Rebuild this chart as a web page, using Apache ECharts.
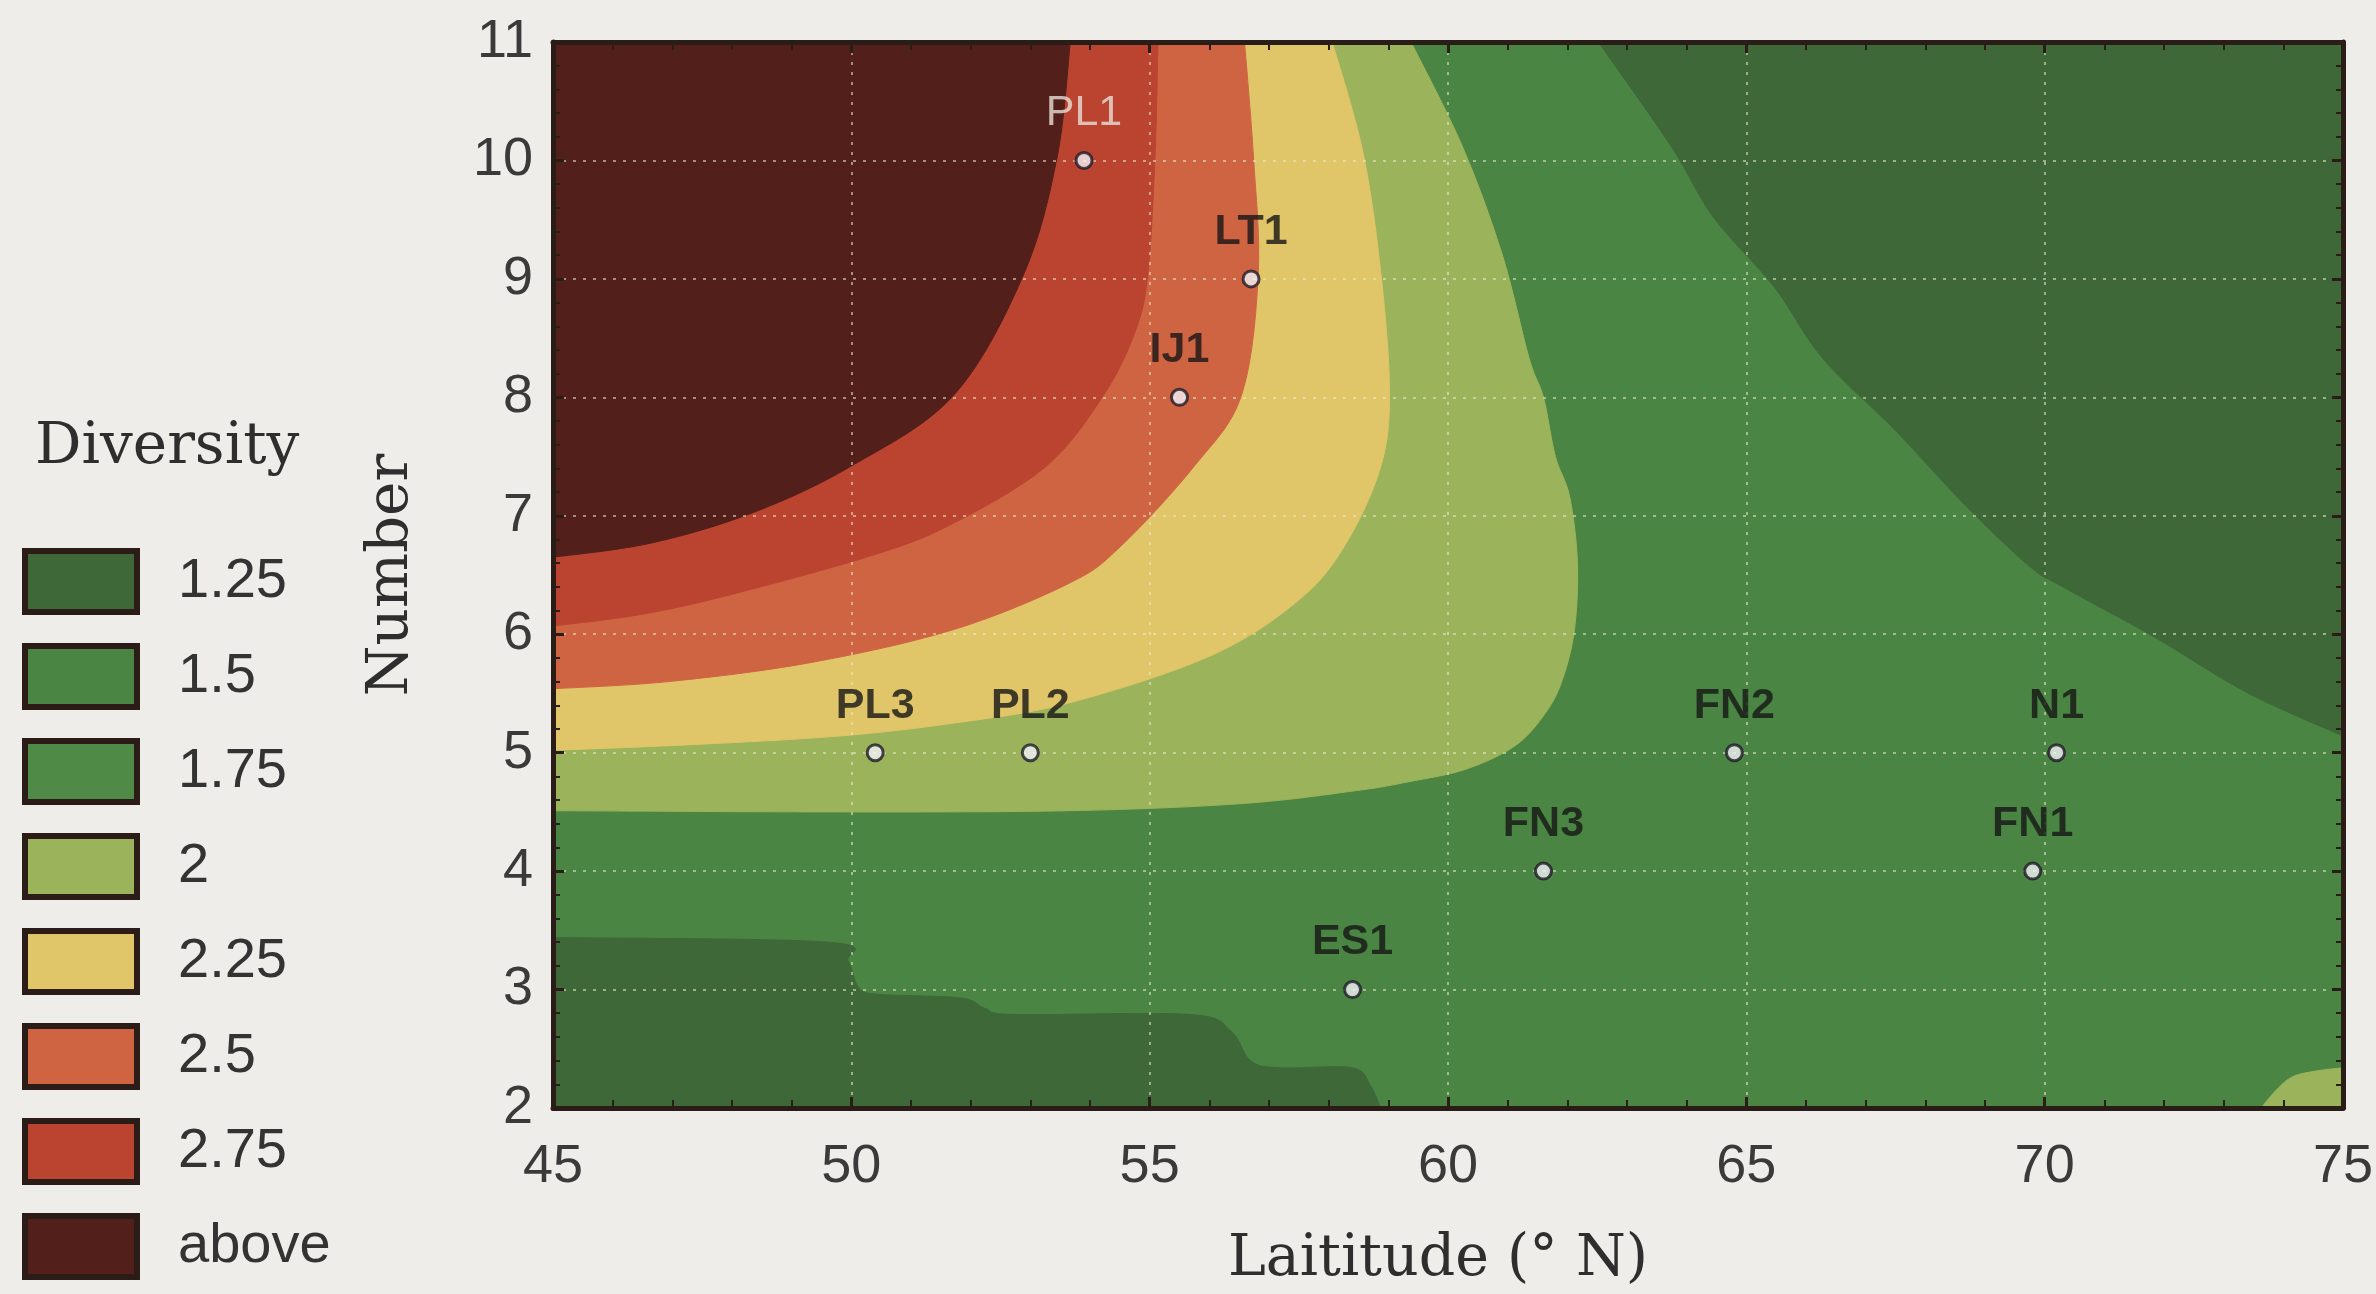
<!DOCTYPE html>
<html>
<head>
<meta charset="utf-8">
<script src="https://cdn.jsdelivr.net/npm/echarts@6/dist/echarts.min.js"></script>
<style>
html,body{margin:0;padding:0;background:#eeede9;}
#c{width:2376px;height:1294px;}
</style>
</head>
<body>
<div id="c"></div>
<script>
// ---- axes ----
const latMin = 45, latMax = 75, latStep = 5;
const numMin = 2, numMax = 11, numStep = 1;

// ---- legend (diversity classes) ----
const levelNames = ['1.25', '1.5', '1.75', '2', '2.25', '2.5', '2.75', 'above'];

// ---- contour boundaries: [latitude, number] ----
const lvlAbove = [[53.67,11],[53.45,10.03],[52.89,9.04],[51.72,8.02],[50.0,7.42],[48.37,7.03],[46.65,6.77],[45,6.65]];
const lvl275 = [[55.14,11],[55.09,10.03],[54.97,9.04],[54.76,8.56],[54.23,8.02],[53.27,7.42],[51.72,6.94],[50.38,6.67],[47.87,6.32],[46.39,6.16],[45,6.07]];
const lvl25 = [[56.59,11],[56.74,10.03],[56.82,9.04],[56.54,8.02],[55.75,7.42],[54.51,6.74],[53.65,6.43],[51.72,6.04],[49.31,5.76],[46.93,5.60],[45,5.54]];
const lvl225 = [[58.06,11],[58.57,10.08],[58.87,9.07],[59.02,8.05],[58.87,7.41],[58.26,6.74],[57.48,6.28],[56.03,5.82],[53.65,5.42],[51.72,5.25],[49.79,5.14],[47.41,5.07],[45,5.02]];
const lvl2 = [[59.38,11],[60.24,10.12],[60.90,9.22],[61.36,8.33],[61.6,8.0],[61.8,7.5],[62.04,7.16],[62.17,6.60],[62.12,6.04],[61.92,5.62],[61.64,5.34],[61.13,5.06],[60.3,4.86],[59.4,4.76],[58.47,4.68],[56.54,4.57],[53.65,4.51],[49.79,4.50],[45,4.51]];
const lvl2Corner = [[73.63,2],[73.86,2.14],[74.14,2.26],[74.52,2.31],[75,2.34]];
const lvl125TopRight = [[62.52,11],[63.74,10.12],[64.45,9.52],[65.47,8.93],[66.28,8.33],[67.50,7.72],[68.61,7.12],[69.73,6.58],[70.34,6.39],[71.86,5.97],[73.38,5.51],[75,5.14]];
const lvl125BottomLeft = [[45,3.44],[49.62,3.40],[49.95,3.24],[50.12,3.02],[50.45,2.96],[51.82,2.93],[52.25,2.84],[52.74,2.79],[55.68,2.79],[56.36,2.65],[56.69,2.40],[57.17,2.34],[58.39,2.34],[58.70,2.19],[58.87,2]];

// ---- sampling sites ----
const siteNames = ['PL1','LT1','IJ1','PL3','PL2','ES1','FN3','FN2','N1','FN1'];
const siteLat   = [53.9, 56.7, 55.5, 50.4, 53.0, 58.4, 61.6, 64.8, 70.2, 69.8];
const siteNum   = [10, 9, 8, 5, 5, 3, 4, 5, 5, 4];

// ---- colours ----
const colors = {
  '1.25': '#3e6838', '1.5': '#4b8544', '1.75': '#4f8a47', '2': '#9bb45b',
  '2.25': '#e0c569', '2.5': '#cf6442', '2.75': '#bb4430', 'above': '#521f1a'
};

// plot corners (from the axis extents)
const TL = [latMin, numMax], TR = [latMax, numMax], BL = [latMin, numMin], BR = [latMax, numMin];

function smoothPath(pts, close) {
  let d = '';
  if (pts.length) {
    d = 'M' + pts[0][0] + ',' + pts[0][1];
    for (let i = 0; i < pts.length - 1; i++) {
      const p0 = pts[i - 1] || pts[i], p1 = pts[i], p2 = pts[i + 1], p3 = pts[i + 2] || pts[i + 1];
      const c1x = p1[0] + (p2[0] - p0[0]) / 6, c1y = p1[1] + (p2[1] - p0[1]) / 6;
      const c2x = p2[0] - (p3[0] - p1[0]) / 6, c2y = p2[1] - (p3[1] - p1[1]) / 6;
      d += ' C' + c1x + ',' + c1y + ' ' + c2x + ',' + c2y + ' ' + p2[0] + ',' + p2[1];
    }
  }
  close.forEach((c, k) => { d += (d === '' && k === 0 ? 'M' : ' L') + c[0] + ',' + c[1]; });
  return d + ' Z';
}

function polySeries(name, polys, z) {
  return {
    type: 'custom', name: name, coordinateSystem: 'cartesian2d',
    xAxisIndex: 0, yAxisIndex: 0, clip: true, silent: true, z: z,
    itemStyle: { color: colors[name] },
    data: polys.map((p, i) => [i, i]),
    renderItem: function (params, api) {
      const p = polys[params.dataIndex];
      const edge = p.edge.map(pt => api.coord(pt));
      const close = p.close.map(pt => api.coord(pt));
      return { type: 'path', shape: { pathData: smoothPath(edge, close) },
               style: { fill: colors[name], stroke: colors[name], lineWidth: 1 } };
    }
  };
}

const chart = echarts.init(document.getElementById('c'), null, { renderer: 'canvas' });

const axisCommon = {
  axisLine: { show: true, onZero: false, lineStyle: { color: '#2a1d18', width: 5 } },
  axisTick: { show: true, inside: true, length: 11, lineStyle: { color: '#2a1d18', width: 3 } },
  z: 4
};

const option = {
  backgroundColor: '#eeede9',
  animation: false,
  title: {
    text: 'Diversity', left: 30, top: 414,
    textStyle: { fontFamily: 'DejaVu Serif', fontSize: 58, fontWeight: 'normal', color: '#2e2e2e' }
  },
  legend: {
    orient: 'vertical', left: 17, top: 543, height: 760, icon: 'rect', selectedMode: false,
    itemWidth: 112, itemHeight: 61, itemGap: 28,
    data: levelNames,
    itemStyle: { borderColor: '#2b1c17', borderWidth: 6 },
    textStyle: { fontFamily: 'Liberation Sans', fontSize: 56, color: '#333', padding: [0, 0, 0, 36] }
  },
  grid: { left: 553, right: 30, top: 42, bottom: 180 },
  xAxis: [
    Object.assign({}, axisCommon, {
      type: 'value', min: latMin, max: latMax, interval: latStep, position: 'bottom',
      name: 'Laititude (° N)', nameLocation: 'middle', nameGap: 124,
      nameTextStyle: { fontFamily: 'DejaVu Serif', fontSize: 57, color: '#2e2e2e', padding: [0, 20, 0, 0] },
      minorTick: { show: true, splitNumber: 5, length: 8, lineStyle: { color: '#2a1d18', width: 2 } },
      axisLabel: { fontFamily: 'Liberation Sans', fontSize: 54, color: '#3a3a3a', margin: 32 },
      splitLine: { show: true, lineStyle: { color: 'rgba(235,235,210,0.55)', width: 2, type: [3, 7] } }
    }),
    Object.assign({}, axisCommon, {
      type: 'value', min: latMin, max: latMax, interval: latStep, position: 'top',
      minorTick: { show: true, splitNumber: 5, length: 8, lineStyle: { color: '#2a1d18', width: 2 } },
      axisLabel: { show: false }, splitLine: { show: false }
    })
  ],
  yAxis: [
    Object.assign({}, axisCommon, {
      type: 'value', min: numMin, max: numMax, interval: numStep, position: 'left',
      name: 'Number', nameLocation: 'middle', nameGap: 132, nameRotate: 90,
      nameTextStyle: { fontFamily: 'DejaVu Serif', fontSize: 58, color: '#2e2e2e' },
      minorTick: { show: true, splitNumber: 5, length: 7, lineStyle: { color: '#2a1d18', width: 2 } },
      axisLabel: { fontFamily: 'Liberation Sans', fontSize: 54, color: '#3a3a3a', margin: 20 },
      splitLine: { show: true, lineStyle: { color: 'rgba(235,235,210,0.55)', width: 2, type: [3, 7] } }
    }),
    Object.assign({}, axisCommon, {
      type: 'value', min: numMin, max: numMax, interval: numStep, position: 'right',
      minorTick: { show: true, splitNumber: 5, length: 7, lineStyle: { color: '#2a1d18', width: 2 } },
      axisLabel: { show: false }, splitLine: { show: false }
    })
  ],
  series: [
    polySeries('1.5', [{ edge: [], close: [BL, BR, TR, TL] }], 1),
    polySeries('1.75', [], 1),
    polySeries('1.25', [{ edge: lvl125TopRight, close: [TR] }, { edge: lvl125BottomLeft, close: [BL] }], 2),
    polySeries('2', [{ edge: lvl2, close: [TL] }, { edge: lvl2Corner, close: [BR] }], 2),
    polySeries('2.25', [{ edge: lvl225, close: [TL] }], 2),
    polySeries('2.5', [{ edge: lvl25, close: [TL] }], 2),
    polySeries('2.75', [{ edge: lvl275, close: [TL] }], 2),
    polySeries('above', [{ edge: lvlAbove, close: [TL] }], 2),
    {
      type: 'scatter', name: 'sites', xAxisIndex: 0, yAxisIndex: 0, z: 6,
      data: siteNames.map((s, i) => ({
        name: s, value: [siteLat[i], siteNum[i]],
        label: i === 0 ? { color: '#e9e0da', fontWeight: 'normal' } : undefined
      })),
      symbol: 'circle', symbolSize: 16,
      itemStyle: { color: '#f3f3f7', borderColor: '#1f1a28', borderWidth: 3 },
      label: {
        show: true, position: 'top', distance: 16, formatter: '{b}',
        fontFamily: 'Liberation Sans', fontWeight: 'bold', fontSize: 43, color: '#151515'
      }
    }
  ]
};
chart.setOption(option);
</script>
</body>
</html>
